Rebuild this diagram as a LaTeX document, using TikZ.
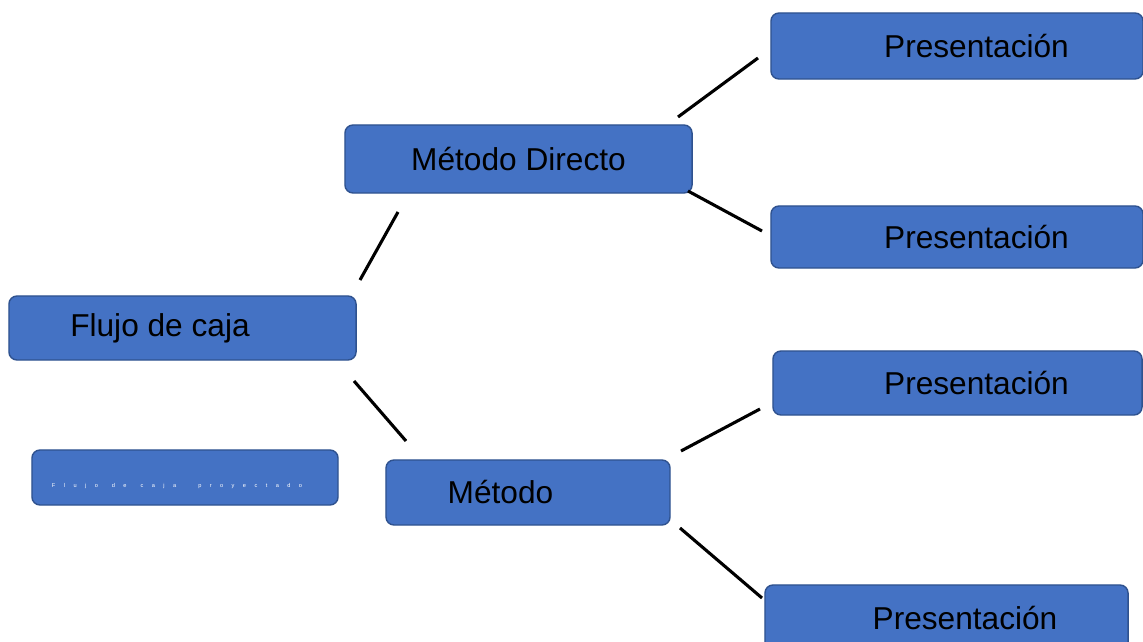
\documentclass[tikz,border=0pt]{standalone}
\usepackage{xcolor}
\usepackage{fontspec}
\setmainfont{Liberation Sans}
\usepackage{tikz}
\usetikzlibrary{positioning}
\definecolor{boxblue}{HTML}{4472C4}
\definecolor{boxline}{HTML}{2F528F}

\begin{document}
\begin{tikzpicture}
      [x=0.025cm, y=-0.025cm, text centered,
       box/.style={draw=boxline, fill=boxblue, rounded corners=0.2cm, line width=1pt, inner sep=0pt, font=\fontsize{22.5}{27}\selectfont},
       link/.style={line width=2.2pt}]

      \useasboundingbox (0,0) rectangle (1143,642);
      \clip (0,0) rectangle (1143,642);

      %nodes
      \node[box, minimum width=8.675cm, minimum height=1.6cm] (flujo) at (182.5,328) {Flujo de caja\hspace*{1.125cm}};
      \node[box, minimum width=7.65cm, minimum height=1.375cm, text height=0.475cm, text depth=0pt, text=white,
            font=\fontsize{4}{5}\selectfont\addfontfeature{LetterSpace=150}]
            (proy) at (185,477.5) {Flujo\hspace*{0.35cm}de\hspace*{0.35cm}caja\hspace*{0.55cm}proyectado\hspace*{0.4cm}};
      \node[box, minimum width=8.675cm, minimum height=1.7cm] (md) at (518.5,159) {Método Directo};
      \node[box, minimum width=7.1cm, minimum height=1.625cm] (mi) at (528,492.5) {Método\hspace*{1.375cm}};
      \node[box, minimum width=9.3cm, minimum height=1.65cm] (p1) at (957,46) {\hspace*{0.975cm}Presentación};
      \node[box, minimum width=9.3cm, minimum height=1.55cm] (p2) at (957,237) {\hspace*{0.975cm}Presentación};
      \node[box, minimum width=9.225cm, minimum height=1.6cm] (p3) at (957.5,383) {\hspace*{0.95cm}Presentación};
      \node[box, minimum width=9.075cm, minimum height=1.65cm] (p4) at (946.5,618) {\hspace*{0.925cm}Presentación};

      % line ends %
      \coordinate (f1) at (360,280);
      \coordinate (d1) at (398,212);
      \coordinate (f2) at (354,381);
      \coordinate (m1) at (406,441);
      \coordinate (d2) at (678,117);
      \coordinate (u1) at (758,58);
      \coordinate (d3) at (688,191);
      \coordinate (u2) at (762,231);
      \coordinate (m2) at (681,451);
      \coordinate (u3) at (760,409);
      \coordinate (m3) at (680,528);
      \coordinate (u4) at (762,598);

      % edges %
      \draw[link] (f1) -- (d1);
      \draw[link] (f2) -- (m1);
      \draw[link] (d2) -- (u1);
      \draw[link] (d3) -- (u2);
      \draw[link] (m2) -- (u3);
      \draw[link] (m3) -- (u4);
    \end{tikzpicture}
\end{document}
